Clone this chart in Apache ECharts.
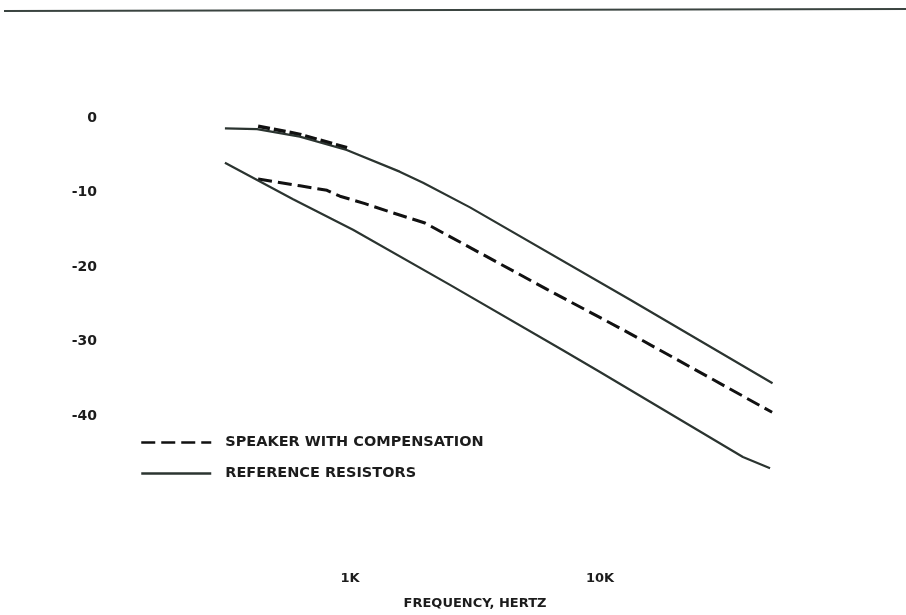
<!DOCTYPE html>
<html>
<head>
<meta charset="utf-8">
<script src="https://cdn.jsdelivr.net/npm/echarts@6/dist/echarts.min.js"></script>
<style>
html,body{margin:0;padding:0;background:#fff;}
#chart{width:906px;height:615px;}
</style>
</head>
<body>
<div id="chart"></div>
<script>
// Reference resistors (upper curve)
const refUpperFreq = [316, 425, 630, 970, 1580, 1960, 3020, 13200, 49000];
const refUpperDb   = [-1.4, -1.5, -2.5, -4.3, -7.2, -8.7, -12.0, -24.4, -35.6];
// Reference resistors (lower curve)
const refLowerFreq = [316, 592, 1028, 2512, 7050, 10000, 37300, 47900];
const refLowerDb   = [-6.0, -10.9, -15.0, -22.4, -31.1, -34.1, -45.5, -47.0];
// Speaker with compensation (low-frequency segment near upper curve)
const spkTopFreq = [429, 631, 973];
const spkTopDb   = [-1.1, -2.2, -4.0];
// Speaker with compensation (main curve)
const spkFreq = [429, 631, 809, 912, 1148, 1445, 1995, 6140, 12800, 48800];
const spkDb   = [-8.2, -9.1, -9.7, -10.5, -11.5, -12.6, -14.1, -23.0, -28.7, -39.5];

const yTicks = [0, -10, -20, -30, -40];
const xTickLabels = {1000: '1K', 10000: '10K'};
const legendNames = ['SPEAKER WITH COMPENSATION', 'REFERENCE RESISTORS'];

const zip = (xs, ys) => xs.map((x, i) => [x, ys[i]]);
const lineColor = '#2b3430';
const textColor = '#1c1c1c';
const font = 'DejaVu Sans';

const chart = echarts.init(document.getElementById('chart'));
chart.setOption({
  animation: false,
  backgroundColor: '#ffffff',
  grid: {left: 100, top: 43.5, width: 750, height: 521.5, containLabel: false},
  xAxis: {
    type: 'log', logBase: 10, min: 100, max: 100000,
    axisLine: {show: false}, axisTick: {show: false}, splitLine: {show: false},
    axisLabel: {
      margin: 7, color: textColor, fontFamily: font, fontWeight: 'bold', fontSize: 13,
      formatter: v => xTickLabels[Math.round(v)] || ''
    },
    name: 'FREQUENCY, HERTZ', nameLocation: 'middle', nameGap: 32,
    nameTextStyle: {color: textColor, fontFamily: font, fontWeight: 'bold', fontSize: 13}
  },
  yAxis: {
    type: 'value', min: -60, max: 10, interval: 10,
    axisLine: {show: false}, axisTick: {show: false}, splitLine: {show: false},
    axisLabel: {
      margin: 3, color: textColor, fontFamily: font, fontWeight: 'bold', fontSize: 14,
      formatter: v => yTicks.includes(v) ? String(v) : ''
    }
  },
  legend: {
    orient: 'vertical', left: 140, top: 435, padding: 0,
    itemWidth: 70, itemHeight: 14, itemGap: 16,
    data: legendNames,
    itemStyle: {opacity: 0},
    lineStyle: {opacity: 1, width: 2.5},
    textStyle: {color: textColor, fontFamily: font, fontWeight: 'bold', fontSize: 14.5, padding: [0, 0, 0, 9]}
  },
  graphic: [{
    type: 'line', shape: {x1: 4, y1: 11, x2: 906, y2: 9},
    style: {stroke: '#3a4440', lineWidth: 2}
  }],
  series: [
    {name: legendNames[0], type: 'line', symbol: 'none', showSymbol: false, data: zip(spkFreq, spkDb),
     lineStyle: {color: '#111', width: 3, type: [14, 6]}, itemStyle: {color: '#111'}},
    {name: legendNames[0], type: 'line', symbol: 'none', showSymbol: false, data: zip(spkTopFreq, spkTopDb),
     lineStyle: {color: '#111', width: 3.5, type: [12, 4]}, itemStyle: {color: '#111'}},
    {name: legendNames[1], type: 'line', symbol: 'none', showSymbol: false, data: zip(refUpperFreq, refUpperDb),
     lineStyle: {color: lineColor, width: 2.2}, itemStyle: {color: lineColor}},
    {name: legendNames[1], type: 'line', symbol: 'none', showSymbol: false, data: zip(refLowerFreq, refLowerDb),
     lineStyle: {color: lineColor, width: 2.2}, itemStyle: {color: lineColor}}
  ]
});
</script>
</body>
</html>
